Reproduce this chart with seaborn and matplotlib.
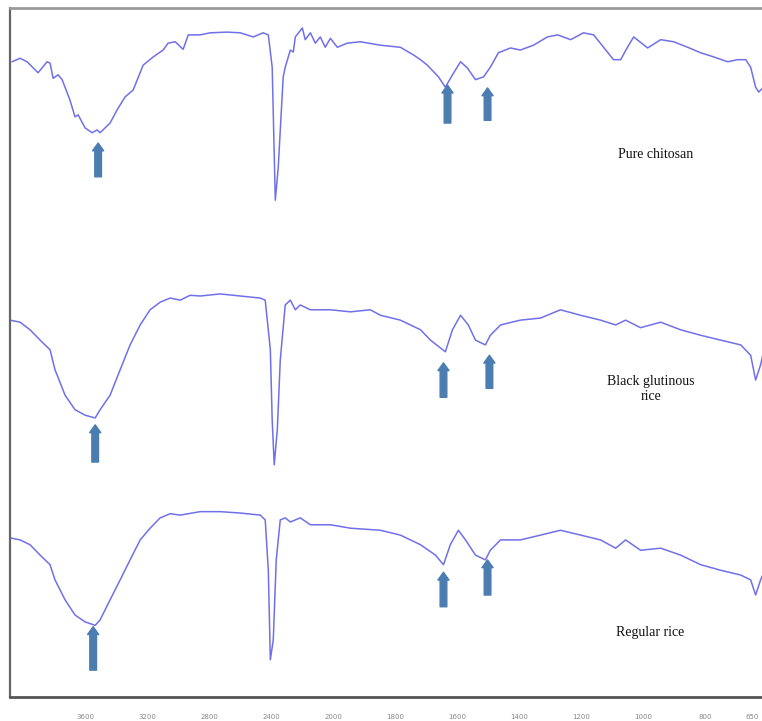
import numpy as np
import pandas as pd
import matplotlib
matplotlib.use("Agg")
import matplotlib.pyplot as plt
import seaborn as sns

# ---------------- data (wavenumber cm-1, transmittance a.u.) ----------------
chitosan_wn = [4071, 4019, 3974, 3903, 3845, 3826, 3806, 3774, 3748, 3697, 3665, 3645,
               3600, 3555, 3523, 3503, 3439, 3394, 3342, 3290, 3226, 3161, 3097, 3065,
               3019, 2968, 2935, 2858, 2794, 2684, 2600, 2516, 2452, 2419, 2394, 2374,
               2355, 2323, 2310, 2277, 2258, 2245, 2200, 2181, 2148, 2116, 2084, 2052,
               2019, 1987, 1955, 1913, 1848, 1784, 1742, 1719, 1697, 1661, 1639, 1616,
               1590, 1568, 1542, 1516, 1494, 1468, 1429, 1397, 1355, 1310, 1277, 1235,
               1194, 1161, 1129, 1097, 1074, 1052, 1032, 987, 945, 903, 858, 816, 774,
               729, 697, 671, 655, 639, 629, 616]
chitosan_t = [92.2, 92.7, 92.2, 90.6, 92.2, 92.0, 89.8, 90.3, 89.6, 86.6, 84.2, 84.5,
              82.6, 81.9, 82.3, 81.9, 83.3, 85.2, 87.1, 88.1, 91.7, 92.9, 93.9, 94.9,
              95.1, 94.0, 96.1, 96.1, 96.4, 96.5, 96.4, 95.8, 96.4, 96.1, 91.4, 72.1,
              76.9, 90.0, 91.4, 93.9, 93.6, 95.8, 97.1, 95.4, 96.4, 94.9, 95.8, 94.3,
              95.6, 94.3, 94.9, 95.1, 94.6, 94.3, 93.2, 92.5, 91.7, 90.0, 88.5, 90.3,
              92.2, 91.3, 89.6, 90.0, 91.4, 93.5, 94.2, 93.9, 94.6, 95.8, 96.1, 95.4,
              96.4, 96.1, 94.3, 92.5, 92.5, 94.3, 95.8, 94.2, 95.4, 95.1, 94.3, 93.5, 92.9,
              92.2, 92.5, 92.5, 91.4, 88.5, 87.8, 88.4]

black_wn = [4084, 4019, 3955, 3890, 3826, 3794, 3729, 3665, 3600, 3535, 3503, 3439,
            3374, 3310, 3245, 3181, 3116, 3052, 2987, 2923, 2858, 2729, 2600, 2471,
            2439, 2406, 2394, 2381, 2361, 2342, 2310, 2277, 2245, 2213, 2148, 2019,
            1945, 1881, 1848, 1784, 1719, 1687, 1639, 1616, 1590, 1565, 1542, 1510,
            1494, 1461, 1397, 1332, 1268, 1203, 1139, 1090, 1058, 1010, 945, 881, 816,
            752, 687, 655, 639, 623, 616]
black_t = [54.7, 54.4, 53.3, 51.8, 50.4, 47.5, 43.8, 41.7, 40.9, 40.5, 41.7, 43.8,
           47.5, 51.1, 54.0, 56.2, 57.3, 57.9, 57.6, 58.3, 58.2, 58.5, 58.2, 57.9,
           57.6, 50.4, 40.2, 33.7, 38.8, 48.9, 56.9, 57.6, 56.2, 56.9, 56.2, 56.2,
           55.9, 56.2, 55.4, 54.7, 53.3, 51.8, 50.1, 53.3, 55.4, 54.0, 51.8, 51.1,
           52.5, 54.0, 54.7, 55.0, 56.2, 55.4, 54.7, 54.0, 54.7, 53.6, 54.4, 53.3, 52.5,
           51.8, 51.1, 49.6, 46.0, 48.2, 49.6]

regular_wn = [4084, 4019, 3955, 3890, 3826, 3794, 3729, 3665, 3600, 3535, 3503, 3439,
              3374, 3310, 3245, 3181, 3116, 3052, 2987, 2858, 2729, 2600, 2471, 2439,
              2419, 2406, 2387, 2368, 2342, 2310, 2277, 2213, 2148, 2019, 1945, 1848,
              1784, 1719, 1671, 1645, 1623, 1597, 1574, 1542, 1510, 1494, 1461, 1397,
              1332, 1268, 1203, 1139, 1090, 1058, 1010, 945, 881, 816, 752, 687, 655,
              639, 623, 616]
regular_t = [23.1, 22.8, 22.1, 20.6, 19.2, 17.0, 14.1, 11.9, 10.9, 10.4, 11.2, 14.1,
             17.0, 19.9, 22.8, 24.5, 26.0, 26.6, 26.4, 26.9, 26.9, 26.7, 26.4, 25.7,
             18.4, 5.4, 8.3, 19.9, 25.7, 26.0, 25.4, 26.0, 25.0, 25.0, 24.5, 24.2,
             23.5, 22.1, 20.6, 19.2, 22.1, 24.2, 22.8, 20.6, 19.9, 21.3, 22.8, 22.8,
             23.5, 24.2, 23.5, 22.8, 21.6, 22.8, 21.3, 21.6, 20.6, 19.2, 18.4, 17.7, 17.0,
             14.8, 17.0, 17.7]

sample_names = ["Pure chitosan", "Black glutinous\nrice", "Regular rice"]

# arrows: wavenumber, tip and tail level (per sample)
arrow_wn = [[3516, 1632, 1503], [3535, 1645, 1497], [3548, 1645, 1503]]
arrow_tip = [[80.4, 88.8, 88.4], [39.5, 48.5, 49.6], [10.2, 18.1, 19.9]]
arrow_tail = [[75.5, 83.3, 83.7], [34.1, 43.5, 44.8], [3.9, 13.1, 14.8]]

tick_values = [3600, 3200, 2800, 2400, 2000, 1800, 1600, 1400, 1200, 1000, 800, 650]
tick_labels = ["3600", "3200", "2800", "2400", "2000", "1800", "1600", "1400",
               "1200", "1000", "800", "650"]

# ---------------- plotting ----------------
sns.set_theme(style="white")
plt.rcParams['font.family'] = ['DejaVu Sans']

fig = plt.figure(figsize=(7.62, 7.21), dpi=100)
ax = fig.add_axes([10 / 762, 24 / 721, 1 - 10 / 762 + 0.001, 689 / 721])


def fwd(w):
    w = np.asarray(w, dtype=float)
    return np.where(w < 2000, w - 2000, (w - 2000) / 2.0)


def inv(p):
    p = np.asarray(p, dtype=float)
    return np.where(p < 0, p + 2000, 2.0 * p + 2000)


ax.set_xscale('function', functions=(fwd, inv))

line_color = "#7070ea"
frames = []
for name, wn, t in [(sample_names[0], chitosan_wn, chitosan_t),
                    (sample_names[1], black_wn, black_t),
                    (sample_names[2], regular_wn, regular_t)]:
    frames.append(pd.DataFrame({"wn": wn, "T": t, "sample": name}))
df = pd.concat(frames, ignore_index=True)

for name in sample_names:
    sub = df[df["sample"] == name]
    sns.lineplot(data=sub, x="wn", y="T", ax=ax, color=line_color, lw=1.1,
                 estimator=None, sort=False, legend=False)

arrow_color = "#4b7db0"
for i in range(3):
    for w, tip, tail in zip(arrow_wn[i], arrow_tip[i], arrow_tail[i]):
        ax.annotate("", xy=(w, tip), xytext=(w, tail),
                    arrowprops=dict(arrowstyle="simple,head_length=0.7,head_width=1.0,tail_width=0.6",
                                    color=arrow_color, mutation_scale=8, shrinkA=0, shrinkB=0))

ax.set_xlim(4084, 616)
ax.set_ylim(0, 100)
ax.set_xticks(tick_values)
ax.set_xticklabels(tick_labels, fontsize=5, color="#888888")
ax.set_yticks([])
ax.set_xlabel("")
ax.set_ylabel("")
ax.tick_params(axis='x', direction='inout', length=4, width=0.8, color="#555555", pad=10)

ax.spines['top'].set_color("#9a9a9a")
ax.spines['top'].set_linewidth(2.0)
ax.spines['left'].set_color("#666666")
ax.spines['left'].set_linewidth(1.6)
ax.spines['bottom'].set_color("#555555")
ax.spines['bottom'].set_linewidth(2.0)
ax.spines['right'].set_visible(False)

serif = ['Liberation Serif', 'DejaVu Serif']
ax.text(0.858, 0.787, sample_names[0], transform=ax.transAxes, ha='center', va='center',
        fontsize=10, family=serif, color="#111111")
ax.text(0.851, 0.447, sample_names[1], transform=ax.transAxes, ha='center', va='center',
        fontsize=10, family=serif, color="#111111", linespacing=1.25)
ax.text(0.851, 0.094, sample_names[2], transform=ax.transAxes, ha='center', va='center',
        fontsize=10, family=serif, color="#111111")

fig.savefig("out.png", dpi=100)
